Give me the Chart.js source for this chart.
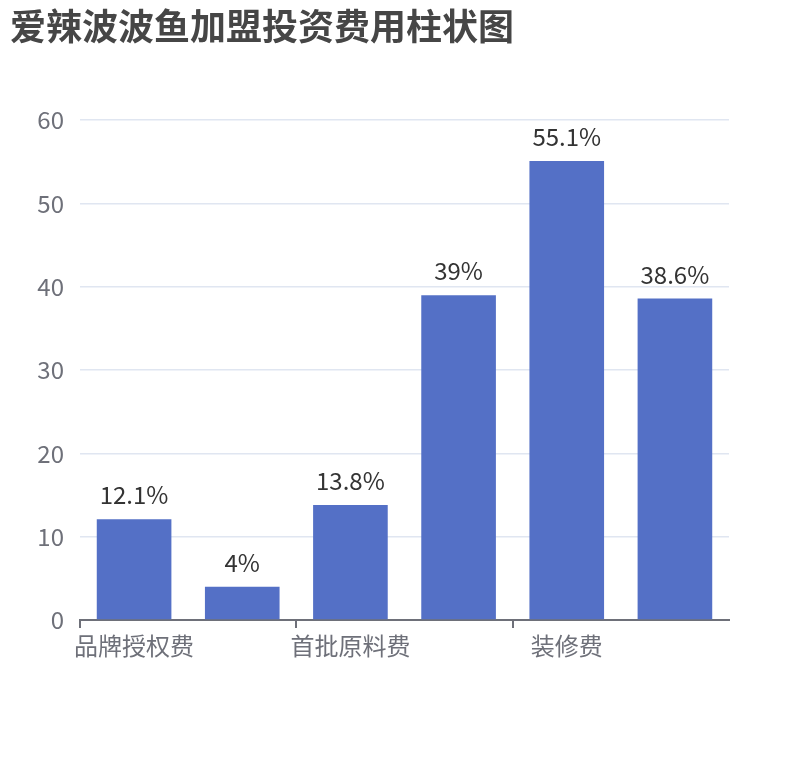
<!DOCTYPE html>
<html>
<head>
<meta charset="utf-8">
<script src="https://cdn.jsdelivr.net/npm/chart.js@4/dist/chart.umd.min.js"></script>
<style>
  body { margin: 0; background: #fff; }
  #wrap { width: 810px; height: 760px; }
</style>
</head>
<body>
<div id="wrap"><canvas id="feeChart"></canvas></div>
<script>
// Chart data
const categories = ['品牌授权费', '加盟保证金', '首批原料费', '设备购置费', '装修费', '店铺租金'];
const feeValues = [12.1, 4, 13.8, 39, 55.1, 38.6];
const yTicks = [0, 10, 20, 30, 40, 50, 60];

const fontFamily = '"Noto Sans CJK SC", "Noto Sans", sans-serif';

// Draw value labels above bars
const barLabels = {
  id: 'barLabels',
  afterDatasetsDraw(chart) {
    const ctx = chart.ctx;
    const meta = chart.getDatasetMeta(0);
    ctx.save();
    ctx.font = '24px ' + fontFamily;
    ctx.fillStyle = '#333';
    ctx.textAlign = 'center';
    ctx.textBaseline = 'bottom';
    meta.data.forEach((bar, i) => {
      ctx.fillText(feeValues[i] + '%', bar.x, bar.y - 12);
    });
    ctx.restore();
  }
};

const ctx = document.getElementById('feeChart').getContext('2d');
new Chart(ctx, {
  type: 'bar',
  data: {
    labels: categories,
    datasets: [{
      data: feeValues,
      backgroundColor: '#5470c6',
      borderWidth: 0,
      barPercentage: 0.69,
      categoryPercentage: 1
    }]
  },
  options: {
    responsive: true,
    maintainAspectRatio: false,
    devicePixelRatio: 1,
    animation: false,
    layout: { padding: { left: 10, right: 81, top: 0, bottom: 80 } },
    plugins: {
      legend: { display: false },
      tooltip: { enabled: false },
      title: {
        display: true,
        text: '爱辣波波鱼加盟投资费用柱状图',
        align: 'start',
        color: '#464646',
        font: { family: fontFamily, size: 36, weight: 'bold' },
        padding: { top: 5, bottom: 72 }
      }
    },
    scales: {
      x: {
        offset: true,
        grid: {
          offset: true,
          drawOnChartArea: false,
          drawTicks: true,
          tickLength: 8,
          lineWidth: 2,
          color: c => c.index % 2 === 0 ? '#6e7079' : 'rgba(0,0,0,0)'
        },
        border: { color: '#6e7079', width: 2 },
        ticks: {
          autoSkip: false,
          maxRotation: 0,
          padding: 3,
          color: '#6e7079',
          font: { family: fontFamily, size: 24 },
          callback: (v, i) => i % 2 === 0 ? categories[i] : ''
        },
        afterFit: s => { s.height = 60; }
      },
      y: {
        min: 0,
        max: 60,
        grid: { color: '#e0e6f1', lineWidth: 1.5, drawTicks: false },
        border: { display: false },
        afterBuildTicks: s => { s.ticks = yTicks.map(v => ({ value: v })); },
        ticks: {
          padding: 16,
          color: '#6e7079',
          font: { family: fontFamily, size: 24 }
        },
        afterFit: s => { s.width = 70; }
      }
    }
  },
  plugins: [barLabels]
});
</script>
</body>
</html>
